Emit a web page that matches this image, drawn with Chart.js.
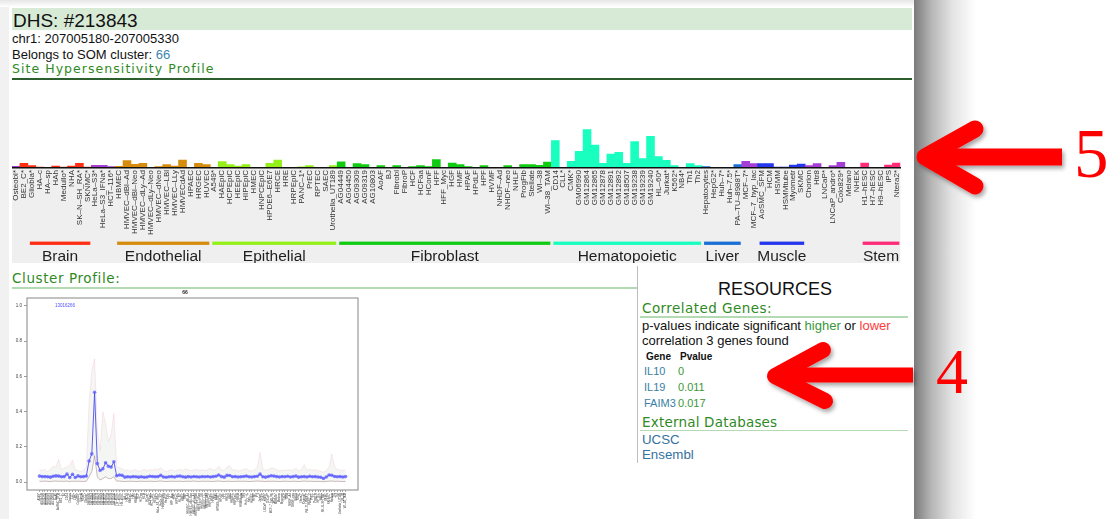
<!DOCTYPE html>
<html>
<head>
<meta charset="utf-8">
<script src="https://cdn.jsdelivr.net/npm/chart.js@4.4.1/dist/chart.umd.min.js"></script>
<style>
  body { margin: 0; width: 1108px; height: 519px; overflow: hidden; background: #fff; position: relative;
         font-family: "Liberation Sans", Arial, sans-serif; color: #111; }
  .abs { position: absolute; white-space: nowrap; }
  .head { font-family: "DejaVu Sans", sans-serif; color: #2f8a24; }
  .rule { position: absolute; height: 1.5px; background: #b3dab3; }
  .gene { color: #3a7fa6; }
  .pv { color: #3a963a; }
</style>
</head>
<body>
<!-- page frame -->
<div class="abs" style="left:0;top:0;width:9px;height:519px;background:#f1f1f1"></div>
<div class="abs" style="left:0;top:0;width:915px;height:7px;background:linear-gradient(#e6e6e6,#fff)"></div>
<div class="abs" style="left:914px;top:0;width:62px;height:519px;background:linear-gradient(to right,#7b7b7b 0%,#b6b6b6 28%,#e4e4e4 62%,#fff 100%)"></div>

<!-- header -->
<div class="abs" style="left:12px;top:8px;width:900px;height:22px;background:#d7ead6"></div>
<div class="abs" style="left:13px;top:10.6px;font-size:19px;line-height:19px">DHS: #213843</div>
<div class="abs" style="left:12px;top:32.3px;font-size:13px;line-height:13px">chr1: 207005180-207005330</div>
<div class="abs" style="left:12px;top:47.7px;font-size:13px;line-height:13px">Belongs to SOM cluster: <span style="color:#3d85b0">66</span></div>
<div class="abs head" style="left:12px;top:63.4px;font-size:12.5px;line-height:12.5px;letter-spacing:1.05px">Site Hypersensitivity Profile</div>
<div class="abs" style="left:12px;top:77.6px;width:900px;height:2px;background:#2d5e2d"></div>

<canvas id="profileChart" class="abs" style="left:12px;top:80px" width="896" height="183"></canvas>

<!-- cluster profile -->
<div class="abs head" style="left:12px;top:271.9px;font-size:13.5px;line-height:13.5px;letter-spacing:0.6px">Cluster Profile:</div>
<div class="rule" style="left:12px;top:287px;width:625px"></div>
<div class="abs" style="left:637px;top:266px;width:1px;height:197px;background:#bdbdbd"></div>
<canvas id="clusterChart" class="abs" style="left:12px;top:289px" width="353" height="230"></canvas>

<!-- resources -->
<div class="abs" style="left:640px;top:279.8px;width:270px;text-align:center;font-size:18px;line-height:18px">RESOURCES</div>
<div class="abs head" style="left:642px;top:301.7px;font-size:13.5px;line-height:13.5px;letter-spacing:0.45px">Correlated Genes:</div>
<div class="rule" style="left:640px;top:316px;width:268px"></div>
<div class="abs" style="left:642px;top:317.5px;font-size:13px;line-height:15px">p-values indicate significant <span style="color:#3a963a">higher</span> or <span style="color:#ff3a3a">lower</span><br>correlation 3 genes found</div>
<div class="abs" style="left:646px;top:351.5px;font-size:10px;line-height:10px;font-weight:bold">Gene</div>
<div class="abs" style="left:680px;top:351.5px;font-size:10px;line-height:10px;font-weight:bold">Pvalue</div>
<div class="abs gene" style="left:644px;top:366.4px;font-size:11px;line-height:11px">IL10</div>
<div class="abs pv" style="left:678px;top:366.4px;font-size:11px;line-height:11px">0</div>
<div class="abs gene" style="left:644px;top:382.4px;font-size:11px;line-height:11px">IL19</div>
<div class="abs pv" style="left:678px;top:382.4px;font-size:11px;line-height:11px">0.011</div>
<div class="abs gene" style="left:644px;top:398px;font-size:11px;line-height:11px">FAIM3</div>
<div class="abs pv" style="left:678px;top:398px;font-size:11px;line-height:11px">0.017</div>
<div class="abs head" style="left:642px;top:415.7px;font-size:13.5px;line-height:13.5px;letter-spacing:0.2px">External Databases</div>
<div class="rule" style="left:640px;top:429.5px;width:268px"></div>
<div class="abs" style="left:642px;top:432px;font-size:13.3px;line-height:15px;color:#35729e">UCSC<br>Ensembl</div>

<!-- annotation arrows -->
<svg class="abs" style="left:0;top:0" width="1108" height="519">
  <defs>
    <filter id="sh" x="-20%" y="-40%" width="140%" height="180%">
      <feDropShadow dx="2" dy="3" stdDeviation="2" flood-color="#000" flood-opacity="0.35"/>
    </filter>
  </defs>
  <g filter="url(#sh)" stroke="#f00" fill="none">
    <path d="M940 157 L1062 157" stroke-width="17" stroke-linecap="butt"/>
    <path d="M975 129 L925 157 L975 186" stroke-width="17" stroke-linecap="round" stroke-linejoin="round"/>
  </g>
  <g filter="url(#sh)" stroke="#f00" fill="none">
    <path d="M790 375 L913 375" stroke-width="15" stroke-linecap="butt"/>
    <path d="M823 350 L775 376 L825 401" stroke-width="16" stroke-linecap="round" stroke-linejoin="round"/>
  </g>
  <text x="1074" y="177" font-family="Liberation Serif" font-size="69" fill="#f00">5</text>
  <text x="936" y="393" font-family="Liberation Serif" font-size="64" fill="#f00">4</text>
</svg>

<script>
// cell types in profile order
const cellTypes = [
  'Osteobl*', 'BE2_C*', 'Gliobla*', 'HA–c', 'HA–sp', 'HAh', 'Medullo*', 'NHA', 'SK–N–SH_RA*', 'SKNMC*',
  'HeLa–S3*', 'HeLa–S3_IFNa*', 'HCT–116*', 'HBMEC', 'HMVEC–dBl–Ad', 'HMVEC–dBl–Neo', 'HMVEC–dLy–Ad', 'HMVEC–dLy–Neo', 'HMVEC–dNeo', 'HMVEC–LBl',
  'HMVEC–LLy', 'HMVECdAd', 'HPAEC', 'HRGEC', 'HUVEC', 'A549*', 'HAEpiC', 'HCPEpiC', 'HEEpiC', 'HIPEpiC',
  'HMEC', 'HNPCEpiC', 'HPDE6–E6E7', 'HRCE', 'HRE', 'HRPEpiC', 'PANC–1*', 'PrEC', 'RPTEC', 'SAEC',
  'Urothelia_UT189', 'AG04449', 'AG04450', 'AG09309', 'AG09319', 'AG10803', 'AoAF', 'BJ', 'Fibrobl', 'FibroP',
  'HCF', 'HCFaa', 'HConF', 'HFF', 'HFF_Myc', 'HGF', 'HMF', 'HPAF', 'HPdLF', 'HPF',
  'HVMF', 'NHDF–Ad', 'NHDF–neo', 'NHLF', 'ProgFib', 'Stellate', 'WI–38', 'WI–38_TAM', 'CD14', 'CLL*',
  'CMK*', 'GM06990', 'GM12864', 'GM12865', 'GM12878', 'GM12891', 'GM12892', 'GM18507', 'GM19238', 'GM19239',
  'GM19240', 'HL–60*', 'Jurkat*', 'K562*', 'NB4*', 'Th1', 'Th2', 'Hepatocytes', 'HepG2*', 'Huh–7*',
  'Huh–7.5*', 'PA–TU–8988T*', 'MCF–7*', 'MCF–7_hyp_lac', 'AoSMC_SFM', 'HCM', 'HSMM', 'HSMMtube', 'Myometr', 'SKMC',
  'Chorion', 'Htr8', 'LNCaP*', 'LNCaP_andro*', 'Colo829*', 'Melano', 'NHEK', 'H1–hESC', 'H7–hESC', 'H9–hESC',
  'iPS', 'Ntera2*'
];

// hypersensitivity signal per cell type
const signal = [
  1.7, 4.7, 2.3, 1.0, 0.3, 2.0, 1.0, 2.0, 4.7, 1.0,
  2.7, 2.7, 1.3, 1.7, 7.3, 3.7, 4.7, 0.3, 1.3, 3.3,
  2.0, 8.0, 0.3, 4.7, 3.3, 0.3, 6.3, 3.3, 2.0, 3.3,
  0.7, 0.7, 4.7, 8.0, 0.3, 0.7, 1.2, 2.3, 0.7, 0.7,
  2.3, 6.2, 0.3, 4.5, 3.3, 0.7, 2.3, 0.7, 2.3, 0.3,
  1.3, 2.3, 1.3, 8.3, 0.3, 5.0, 3.3, 1.3, 0.3, 2.3,
  0.7, 0.7, 2.3, 0.7, 3.3, 3.3, 2.7, 6.0, 27.3, 0.3,
  6.7, 16.7, 38.3, 23.0, 4.7, 14.0, 15.7, 4.7, 26.3, 9.3,
  31.7, 11.3, 7.7, 2.3, 0.3, 4.3, 2.3, 1.3, 0.7, 0.7,
  0.7, 3.3, 6.7, 4.3, 4.3, 4.3, 1.0, 1.0, 3.0, 4.0,
  2.3, 4.3, 0.3, 2.3, 5.7, 0.7, 0.3, 5.0, 0.3, 0.7,
  3.0, 5.0
];

// consecutive runs of tissue class along the profile
const tissueRuns = [
  ['other', 1], ['brain', 9], ['other', 3], ['endothelial', 12], ['epithelial', 16], ['fibroblast', 27],
  ['hematopoietic', 19], ['liver', 5], ['other', 2], ['muscle', 6], ['other', 7], ['stem', 5]
];

// labelled tissue groups (first / last cell type index)
const groupNames = ['Brain', 'Endothelial', 'Epithelial', 'Fibroblast', 'Hematopoietic', 'Liver', 'Muscle', 'Stem'];
const groupKeys = ['brain', 'endothelial', 'epithelial', 'fibroblast', 'hematopoietic', 'liver', 'muscle', 'stem'];
const groupFirst = [2, 13, 25, 41, 68, 87, 94, 107];
const groupLast = [9, 24, 40, 67, 86, 91, 99, 111];

// cluster 66 profile (mean and spread of member sites)
const clusterId = '66';
const clusterCount = '13016266';
const clusterMean = [
  0.034, 0.031, 0.031, 0.030, 0.028, 0.033, 0.035, 0.034, 0.030, 0.031, 0.045, 0.026, 0.044, 0.026, 0.035, 0.030, 0.031, 0.034,
  0.120, 0.160, 0.510, 0.105, 0.066, 0.075, 0.110, 0.090, 0.085, 0.115,
  0.036, 0.040, 0.038, 0.028, 0.030, 0.029, 0.031, 0.030, 0.028, 0.030, 0.027, 0.029,
  0.033, 0.032, 0.030, 0.031, 0.038, 0.029, 0.027, 0.030, 0.031, 0.029,
  0.033, 0.034, 0.030, 0.028, 0.031, 0.029, 0.032, 0.030, 0.029, 0.031,
  0.030, 0.032, 0.029, 0.031, 0.033, 0.040, 0.031, 0.028, 0.038, 0.037,
  0.030, 0.031, 0.029, 0.030, 0.032, 0.034, 0.030, 0.029, 0.031, 0.033,
  0.045, 0.030, 0.028, 0.032, 0.036, 0.034, 0.031, 0.029, 0.031, 0.030,
  0.033, 0.029, 0.031, 0.034, 0.028, 0.030, 0.031, 0.029, 0.033, 0.030,
  0.031, 0.029, 0.027, 0.020, 0.029, 0.040, 0.039, 0.032, 0.030, 0.031, 0.029, 0.031
];
const clusterUpper = [
  0.070, 0.065, 0.072, 0.060, 0.075, 0.090, 0.085, 0.130, 0.070, 0.080, 0.085, 0.095, 0.125, 0.070, 0.065, 0.060, 0.068, 0.080,
  0.450, 0.630, 0.700, 0.300, 0.180, 0.400, 0.330, 0.230, 0.270, 0.390,
  0.090, 0.080, 0.075, 0.065, 0.070, 0.062, 0.068, 0.070, 0.060, 0.066, 0.072, 0.064,
  0.070, 0.068, 0.075, 0.070, 0.082, 0.066, 0.060, 0.065, 0.070, 0.062,
  0.068, 0.072, 0.065, 0.075, 0.070, 0.064, 0.068, 0.072, 0.066, 0.070,
  0.065, 0.070, 0.078, 0.068, 0.072, 0.090, 0.070, 0.065, 0.085, 0.092,
  0.068, 0.070, 0.064, 0.066, 0.072, 0.075, 0.066, 0.062, 0.070, 0.085,
  0.170, 0.075, 0.066, 0.072, 0.080, 0.078, 0.070, 0.064, 0.068, 0.066,
  0.072, 0.065, 0.070, 0.078, 0.064, 0.070, 0.100, 0.066, 0.072, 0.068,
  0.070, 0.065, 0.062, 0.055, 0.068, 0.085, 0.160, 0.090, 0.070, 0.068, 0.066, 0.070
];
const clusterLower = [
  0.005, 0.004, 0.006, 0.004, 0.003, 0.005, 0.006, 0.004, 0.005, 0.004, 0.006, 0.003, 0.005, 0.004, 0.005, 0.004, 0.003, 0.005,
  0.030, 0.060, 0.150, 0.030, 0.012, 0.020, 0.030, 0.020, 0.020, 0.030,
  0.005, 0.006, 0.004, 0.003, 0.004, 0.005, 0.004, 0.003, 0.004, 0.005, 0.003, 0.004,
  0.005, 0.004, 0.003, 0.005, 0.006, 0.004, 0.003, 0.004, 0.005, 0.004,
  0.004, 0.005, 0.003, 0.004, 0.005, 0.004, 0.006, 0.004, 0.003, 0.005,
  0.004, 0.005, 0.004, 0.003, 0.005, 0.006, 0.004, 0.003, 0.005, 0.004,
  0.003, 0.004, 0.005, 0.004, 0.005, 0.004, 0.003, 0.004, 0.005, 0.006,
  0.005, 0.004, 0.003, 0.005, 0.004, 0.005, 0.004, 0.003, 0.004, 0.005,
  0.004, 0.003, 0.005, 0.004, 0.003, 0.004, 0.006, 0.004, 0.005, 0.004,
  0.003, 0.004, 0.003, 0.002, 0.004, 0.005, 0.006, 0.004, 0.005, 0.004, 0.003, 0.004
];

const tissueColors = {
  other: '#a53ed6',
  brain: '#ff2e12',
  endothelial: '#d68c0c',
  epithelial: '#95f01a',
  fibroblast: '#0fcc12',
  hematopoietic: '#18ffbf',
  liver: '#1a6fd4',
  muscle: '#2436ee',
  stem: '#ff2a78'
};

const barColors = [];
tissueRuns.forEach(([key, n]) => {
  for (let k = 0; k < n; k++) barColors.push(tissueColors[key]);
});

// gray label panel + tissue group bars under the axis
const tissuePanel = {
  id: 'tissuePanel',
  beforeDraw(chart) {
    const { ctx, chartArea: a } = chart;
    ctx.save();
    ctx.fillStyle = '#efefef';
    ctx.fillRect(a.left, a.bottom, a.right - a.left, chart.height - a.bottom);
    ctx.restore();
  },
  afterDraw(chart) {
    const { ctx, chartArea: a } = chart;
    const x = chart.scales.x;
    const slot = x.getPixelForValue(1) - x.getPixelForValue(0);
    ctx.save();
    ctx.font = '15.5px "Liberation Sans", Arial, sans-serif';
    ctx.textAlign = 'center';
    ctx.textBaseline = 'alphabetic';
    groupNames.forEach((name, g) => {
      const x0 = x.getPixelForValue(groupFirst[g]) - slot / 2 + 2;
      const x1 = x.getPixelForValue(groupLast[g]) + slot / 2 - 1;
      ctx.fillStyle = tissueColors[groupKeys[g]];
      ctx.fillRect(x0, a.bottom + 73.6, x1 - x0, 3.3);
      ctx.fillStyle = '#1e1e1e';
      ctx.fillText(name, (x0 + x1) / 2, a.bottom + 92.6);
    });
    ctx.restore();
  }
};

new Chart(document.getElementById('profileChart'), {
  type: 'bar',
  data: {
    labels: cellTypes,
    datasets: [{
      data: signal,
      backgroundColor: barColors,
      borderWidth: 0,
      barPercentage: 1,
      categoryPercentage: 1
    }]
  },
  options: {
    responsive: false,
    animation: false,
    devicePixelRatio: 1,
    layout: { padding: 0 },
    plugins: { legend: { display: false }, tooltip: { enabled: false } },
    scales: {
      x: {
        grid: { display: false, drawTicks: false },
        border: { display: true, color: '#111', width: 1.4, z: 1 },
        ticks: {
          autoSkip: false, minRotation: 90, maxRotation: 90, padding: 2,
          color: '#333', font: { size: 8, family: '"Liberation Sans", Arial, sans-serif' }
        },
        afterFit: s => { s.height = 95; }
      },
      y: { display: false, min: 0, max: 88 }
    }
  },
  plugins: [tissuePanel]
});

// cluster plot: frame + member count
const clusterNames = [...cellTypes].sort((a, b) => a.localeCompare(b));
const pts = arr => arr.map((y, i) => ({ x: i, y }));

const clusterFrame = {
  id: 'clusterFrame',
  afterDraw(chart) {
    const { ctx, chartArea: a } = chart;
    ctx.save();
    ctx.strokeStyle = '#9a9a9a';
    ctx.lineWidth = 1.2;
    ctx.strokeRect(a.left, a.top, a.right - a.left, a.bottom - a.top);
    ctx.fillStyle = '#5050ff';
    ctx.font = '4.5px "Liberation Sans", Arial, sans-serif';
    ctx.fillText(clusterCount, a.left + 28, a.top + 8.5);
    ctx.restore();
  }
};

new Chart(document.getElementById('clusterChart'), {
  type: 'line',
  data: {
    datasets: [
      { data: pts(clusterMean), borderColor: 'rgba(70,70,235,0.85)', borderWidth: 1, pointRadius: 1.8,
        pointBackgroundColor: 'rgba(90,90,255,0.75)', pointBorderWidth: 0, fill: false },
      { data: pts(clusterUpper), borderColor: 'rgba(235,140,160,0.3)', borderWidth: 0.6, pointRadius: 0,
        fill: '+1', backgroundColor: 'rgba(185,200,185,0.16)' },
      { data: pts(clusterLower), borderColor: 'rgba(110,60,60,0.45)', borderWidth: 0.8, pointRadius: 0, fill: false }
    ]
  },
  options: {
    responsive: false,
    animation: false,
    devicePixelRatio: 1,
    layout: { padding: { right: 7 } },
    plugins: {
      legend: { display: false },
      tooltip: { enabled: false },
      title: { display: true, text: clusterId, color: '#222', font: { size: 5, weight: 'bold' }, padding: { top: 1, bottom: 2 } }
    },
    scales: {
      x: {
        type: 'linear', min: -4.5, max: 115.5,
        afterBuildTicks: s => { s.ticks = clusterNames.map((_, i) => ({ value: i })); },
        ticks: {
          autoSkip: false, minRotation: 90, maxRotation: 90, padding: 1,
          color: '#333', font: { size: 2.8 }, callback: v => clusterNames[v]
        },
        grid: { drawOnChartArea: false, tickLength: 2, color: '#555', lineWidth: 0.5 },
        border: { display: false },
        afterFit: s => { s.height = 29; }
      },
      y: {
        min: -0.045, max: 1.045,
        ticks: { stepSize: 0.2, includeBounds: false, padding: 2, color: '#444', font: { size: 4.5 },
                 callback: v => v.toFixed(1) },
        grid: { drawOnChartArea: false, tickLength: 3, color: '#555', lineWidth: 0.6 },
        border: { display: false },
        afterFit: s => { s.width = 15; }
      }
    }
  },
  plugins: [clusterFrame]
});
</script>
</body>
</html>
